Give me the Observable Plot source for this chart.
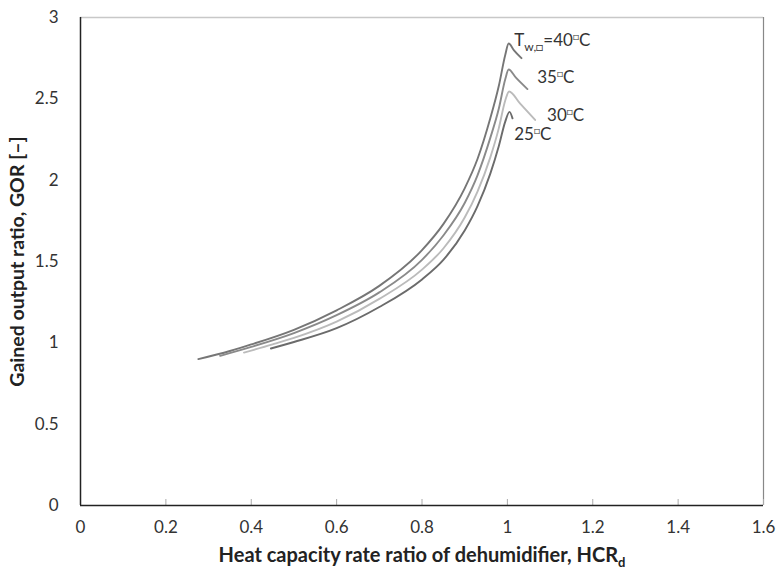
<!DOCTYPE html>
<html>
<head>
<meta charset="utf-8">
<script src="https://cdn.jsdelivr.net/npm/d3@7"></script>
<script src="https://cdn.jsdelivr.net/npm/@observablehq/plot@0.6"></script>
<style>
  html, body { margin: 0; padding: 0; background: #fff; }
  #chart { width: 780px; height: 580px; }
  svg { font-family: Lato, "Open Sans", sans-serif; }
</style>
</head>
<body>
<div id="chart"></div>
<script>
// ---- Data ----
const seriesNames = ["40", "35", "30", "25"];
const hcr40 = [0.276, 0.35, 0.4, 0.5, 0.6, 0.7, 0.8, 0.85, 0.9, 0.93, 0.96, 0.98, 0.995, 1.003, 1.015, 1.033];
const gor40 = [0.90, 0.95, 0.99, 1.08, 1.20, 1.35, 1.57, 1.73, 1.95, 2.13, 2.38, 2.58, 2.77, 2.84, 2.80, 2.75];
const hcr35 = [0.327, 0.4, 0.5, 0.6, 0.7, 0.8, 0.85, 0.9, 0.93, 0.96, 0.98, 0.995, 1.003, 1.02, 1.047];
const gor35 = [0.92, 0.975, 1.06, 1.17, 1.31, 1.51, 1.66, 1.86, 2.03, 2.26, 2.44, 2.62, 2.68, 2.63, 2.56];
const hcr30 = [0.383, 0.45, 0.5, 0.6, 0.7, 0.8, 0.85, 0.9, 0.93, 0.96, 0.98, 0.995, 1.004, 1.03, 1.065];
const gor30 = [0.94, 0.99, 1.03, 1.13, 1.27, 1.45, 1.58, 1.77, 1.93, 2.14, 2.32, 2.49, 2.545, 2.47, 2.37];
const hcr25 = [0.446, 0.5, 0.6, 0.7, 0.8, 0.85, 0.9, 0.93, 0.96, 0.98, 0.995, 1.005, 1.012];
const gor25 = [0.965, 1.005, 1.09, 1.22, 1.39, 1.51, 1.69, 1.84, 2.04, 2.21, 2.36, 2.42, 2.38];

const xTicks = [0, 0.2, 0.4, 0.6, 0.8, 1, 1.2, 1.4, 1.6];
const yTicks = [0, 0.5, 1, 1.5, 2, 2.5, 3];

const labelText = ["T|w,\u25A1|=40|\u25A1|C", "35|\u25A1|C", "30|\u25A1|C", "25|\u25A1|C"];
const labelX = [1.016, 1.07, 1.093, 1.016];
const labelY = [2.86, 2.63, 2.40, 2.28];

const xTitle = "Heat capacity rate ratio of dehumidifier, HCR";
const xTitleSub = "d";
const yTitle = "Gained output ratio, GOR [\u2013]";

// ---- Build tables ----
const seriesX = {"40": hcr40, "35": hcr35, "30": hcr30, "25": hcr25};
const seriesY = {"40": gor40, "35": gor35, "30": gor30, "25": gor25};
const rows = seriesNames.flatMap(s => seriesX[s].map((x, i) => ({s, x, y: seriesY[s][i]})));
const labels = labelText.map((t, i) => ({t, x: labelX[i], y: labelY[i]}));

const colors = {"40": "#767676", "35": "#8a8a8a", "30": "#bbbbbb", "25": "#6b6b6b"};

const chart = Plot.plot({
  width: 780,
  height: 580,
  marginLeft: 80,
  marginRight: 17,
  marginTop: 17,
  marginBottom: 75,
  style: {fontFamily: "Lato, 'Open Sans', sans-serif", fontSize: "17px", color: "#333", background: "#fff"},
  x: {domain: [0, 1.6]},
  y: {domain: [0, 3]},
  marks: [
    Plot.ruleY([3], {stroke: "#c8c8c8", strokeWidth: 1.5}),
    Plot.ruleX([1.6], {stroke: "#888", strokeWidth: 1.2}),
    Plot.axisX({ticks: xTicks, tickSize: -6, stroke: "#aaa", tickPadding: 21, tickFormat: d => String(d),
      label: xTitle, labelAnchor: "center", labelOffset: 56, fill: "#333"}),
    Plot.axisY({ticks: yTicks, tickSize: 0, tickPadding: 22, tickFormat: d => String(d),
      label: yTitle, labelAnchor: "center", labelOffset: 70, fill: "#333"}),
    Plot.ruleX([0], {stroke: "#222", strokeWidth: 1.5}),
    Plot.ruleY([0], {stroke: "#222", strokeWidth: 1.5}),
    Plot.line(rows, {x: "x", y: "y", z: "s", stroke: d => colors[d.s], strokeWidth: 1.9, curve: "monotone-x"}),
    Plot.text(labels, {x: "x", y: "y", text: "t", textAnchor: "start", fontSize: 17, fill: "#333",
      ariaDescription: "curvelabels"})
  ]
});

document.getElementById("chart").appendChild(chart);

// Rich text: sub/superscripts for curve labels
d3.select(chart).selectAll("g[aria-description=curvelabels] text").each(function() {
  const el = d3.select(this);
  const parts = el.text().split("|");
  el.text(null);
  if (parts.length === 5) {
    el.append("tspan").text(parts[0]);
    el.append("tspan").attr("font-size", 12).attr("dy", 5).text(parts[1]);
    el.append("tspan").attr("dy", -5).text(parts[2]);
    el.append("tspan").attr("font-size", 10).attr("dy", -6).text(parts[3]);
    el.append("tspan").attr("dy", 6).text(parts[4]);
  } else {
    el.append("tspan").text(parts[0]);
    el.append("tspan").attr("font-size", 10).attr("dy", -6).text(parts[1]);
    el.append("tspan").attr("dy", 6).text(parts[2]);
  }
});

// Axis titles: bold, with subscript d
d3.select(chart).selectAll("g[aria-label='x-axis label'] text").each(function() {
  const el = d3.select(this);
  el.attr("font-weight", "bold").attr("font-size", 20).attr("fill", "#222").text(null);
  el.append("tspan").text(xTitle);
  el.append("tspan").attr("font-size", 13).attr("dy", 5).text(xTitleSub);
});
d3.select(chart).selectAll("g[aria-label='y-axis label'] text").each(function() {
  const el = d3.select(this);
  el.attr("font-weight", "bold").attr("font-size", 19.5).attr("fill", "#222").text(yTitle);
});
</script>
</body>
</html>
